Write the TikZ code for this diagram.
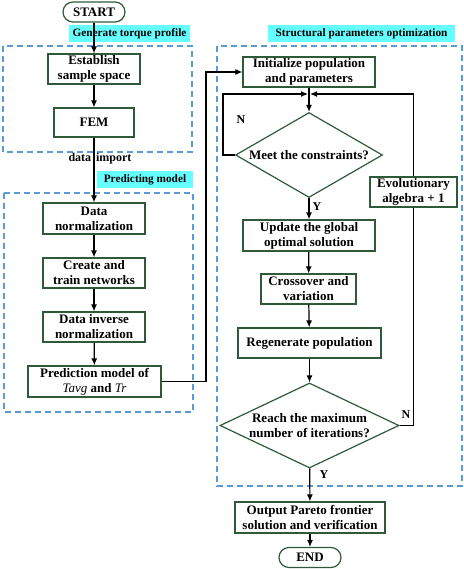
\documentclass[tikz,border=0pt]{standalone}
\usepackage{fontspec}
\setmainfont{Liberation Serif}
\usetikzlibrary{arrows.meta,shapes.geometric}
\definecolor{boxgreen}{HTML}{2E5A3A}
\definecolor{dashblue}{HTML}{5B9BD5}
\definecolor{tagcyan}{HTML}{66FFFF}
\begin{document}
\begin{tikzpicture}[x=1pt,y=-1pt,->,>={Latex[length=7pt,width=6pt]},line width=1.2pt,
  font=\fontsize{13}{15}\selectfont\bfseries,
  proc node/.style={draw=boxgreen,rectangle,align=center,inner sep=0pt,minimum height=30pt},
  term node/.style={draw=boxgreen,rectangle,rounded corners=10pt,inner sep=0pt,minimum width=62pt,minimum height=20pt},
  test node/.style={draw=boxgreen,diamond,align=center,inner sep=0pt},
  tag node/.style={fill=tagcyan,inner sep=0pt,minimum height=17pt,font=\fontsize{11.3}{13}\selectfont\bfseries},
  group box/.style={-,draw=dashblue,dash pattern=on 6pt off 4pt,line width=1.3pt},
  yn/.style={font=\fontsize{12}{14}\selectfont\bfseries}]
\useasboundingbox (0,0) rectangle (463,569);
% group frames
\draw[group box] (3,46) rectangle (192,152);
\draw[group box] (4,193) rectangle (193,412);
\draw[group box] (217,46) rectangle (462,486);
\node[tag node,minimum width=121pt] (tag1) at (129.5,34) {Generate torque profile};
\node[tag node,minimum width=96pt] (tag2) at (145,179.5) {Predicting model};
\node[tag node,minimum width=187pt] (tag3) at (361.5,33.5) {Structural parameters optimization};
% left column
\node[term node] (start) at (94,12) {START};
\node[proc node,minimum width=92pt] (est) at (94,69) {Establish\\sample space};
\node[proc node,minimum width=80pt,minimum height=29pt] (fem) at (94,122.5) {FEM};
\node[yn] (imp) at (100,159) {data\hspace{5pt}import};
\node[proc node,minimum width=102pt,minimum height=31pt] (dnorm) at (94,218.5) {Data\\normalization};
\node[proc node,minimum width=102pt] (train) at (94,273) {Create and\\train networks};
\node[proc node,minimum width=102pt] (inv) at (94,327) {Data inverse\\normalization};
\node[proc node,minimum width=133pt,minimum height=31pt] (pred) at (94.5,381.5) {Prediction model of\\{\mdseries\itshape Tavg} and {\mdseries\itshape Tr}};
% right column
\node[proc node,minimum width=132pt] (init) at (309,72) {Initialize population\\and parameters};
\coordinate (join) at (309,94);
\coordinate (rail) at (206,230);
\coordinate (loop) at (223,94);
\node[test node,aspect=1.73,minimum width=147pt,minimum height=85pt] (meet) at (309,155) {Meet the constraints?};
\node[proc node,minimum width=132pt,minimum height=31pt] (upd) at (309,235.5) {Update the global\\optimal solution};
\node[proc node,minimum width=95pt] (cross) at (308.5,289) {Crossover and\\variation};
\node[proc node,minimum width=143pt] (regen) at (309.5,343) {Regenerate population};
\node[test node,aspect=2.1,minimum width=179pt,minimum height=85pt] (reach) at (309.5,425.5) {Reach the maximum\\number of iterations?};
\node[proc node,minimum width=87pt] (evo) at (413.5,192) {Evolutionary\\algebra + 1};
\node[proc node,minimum width=150pt,minimum height=31pt] (out) at (310,517.5) {Output Pareto frontier\\solution and verification};
\node[term node] (end) at (310,557.5) {END};
% labels
\node[yn] (n1) at (241,120) {N};
\node[yn] (y1) at (317,207) {Y};
\node[yn] (n2) at (406,415) {N};
\node[yn] (y2) at (324,475) {Y};
% connectors
\path (start) edge (est);
\path (est) edge (fem);
\path (fem) edge (dnorm);
\path (dnorm) edge (train);
\path (train) edge (inv);
\path (inv) edge (pred);
\draw (pred.east) -| (rail) |- (init.west);
\draw[-] (init) -- (join);
\draw (join) -- (meet);
\draw (meet.west) -| (loop) -- ([xshift=-1pt]join);
\path (meet) edge (upd);
\path (upd) edge (cross);
\path (cross) edge (regen);
\path (regen) edge (reach);
\draw[-] (reach.east) -| (evo.south);
\draw (evo.north) |- ([xshift=1pt]join);
\path (reach) edge (out);
\path (out) edge (end);
\end{tikzpicture}
\end{document}
